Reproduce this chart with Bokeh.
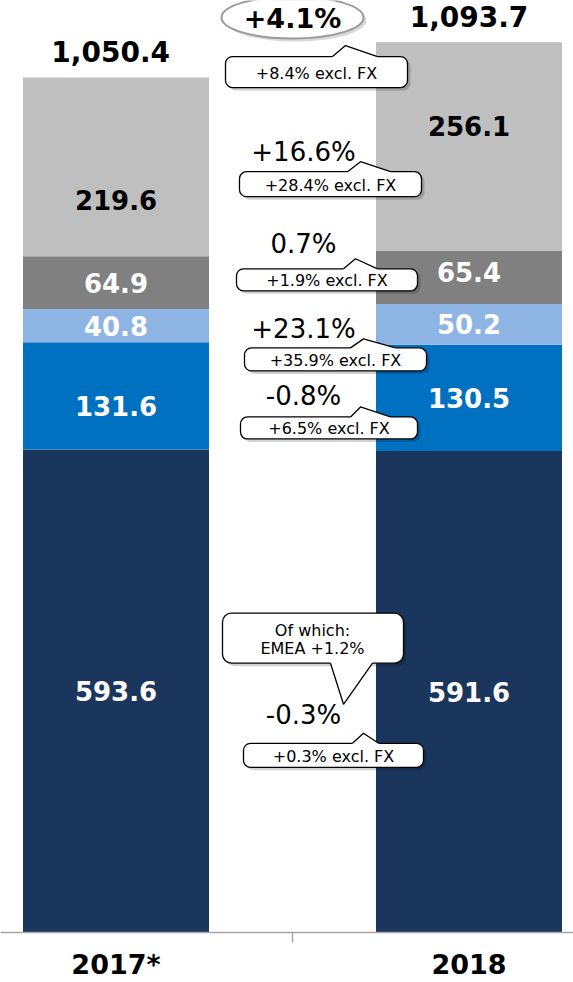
from bokeh.plotting import figure
from bokeh.models import Range1d, FixedTicker
from bokeh.core.properties import value
from bokeh.embed import file_html
from bokeh.resources import INLINE

# ---------------- data ----------------
years = ["2017*", "2018"]
values_2017 = [593.6, 131.6, 40.8, 64.9, 219.6]
values_2018 = [591.6, 130.5, 50.2, 65.4, 256.1]
totals = [1050.4, 1093.7]
growth = ["-0.3%", "-0.8%", "+23.1%", "0.7%", "+16.6%"]
growth_fx = ["+0.3% excl. FX", "+6.5% excl. FX", "+35.9% excl. FX",
             "+1.9% excl. FX", "+28.4% excl. FX"]
total_growth = "+4.1%"
total_growth_fx = "+8.4% excl. FX"
note_lines = ["Of which:", "EMEA +1.2%"]

# ---------------- styles / layout ----------------
colors = ["#1b365d", "#0070c0", "#8db4e2", "#808080", "#bfbfbf"]
label_colors = ["white", "white", "white", "white", "black"]
FONT = "DejaVu Sans"
W = 573
FRAME_H = 931          # rendered frame height
REF_BASE = 933         # baseline of the reference picture (px)
PXU = 0.813            # pixels per value unit
X_START = -115.5 / 353.0
X_PER_PX = 1 / 353.0
BAR_W = 186 / 353.0

def X(px):
    return X_START + px * X_PER_PX

def Y(py):
    return (REF_BASE - py) / PXU

def DY(dpx):
    return dpx / PXU

p = figure(width=W, height=982, min_border=0, output_backend="svg",
           toolbar_location=None, y_axis_location=None,
           x_range=Range1d(X_START, X_START + W * X_PER_PX),
           y_range=Range1d(0, FRAME_H / PXU))
p.outline_line_color = None
p.xgrid.visible = False
p.ygrid.visible = False
p.background_fill_color = "white"

ax = p.xaxis[0]
ax.ticker = FixedTicker(ticks=[0, 1], minor_ticks=[0.5])
ax.major_label_overrides = {0: years[0], 1: years[1]}
ax.major_tick_out = 0
ax.major_tick_in = 0
ax.minor_tick_out = 10
ax.minor_tick_in = 0
ax.minor_tick_line_color = "#a6a6a6"
ax.minor_tick_line_width = 1.5
ax.axis_line_color = "#a6a6a6"
ax.axis_line_width = 1.5
ax.major_label_standoff = 6
ax.major_label_text_font = FONT
ax.major_label_text_font_size = "27px"
ax.major_label_text_font_style = "bold"
ax.major_label_text_color = "black"

# ---------------- stacked bars ----------------
label_dy_px = [[0, -10, 0, 0, -33], [0, 0, 0, 5, 20]]
for i, vals in enumerate([values_2017, values_2018]):
    bottom = 0.0
    for j, v in enumerate(vals):
        p.vbar(x=[i], width=BAR_W, bottom=[bottom], top=[bottom + v],
               fill_color=colors[j], line_color=None)
        p.text(x=[i], y=[bottom + v / 2 + DY(label_dy_px[i][j])],
               text=[f"{v:.1f}"], text_align="center", text_baseline="middle",
               text_font=value(FONT), text_font_size="26px",
               text_font_style="bold", text_color=label_colors[j])
        bottom += v
    p.text(x=[i - 0.015 * (1 - i)], y=[totals[i] + DY(26)],
           text=[f"{totals[i]:,.1f}"],
           text_align="center", text_baseline="middle",
           text_font=value(FONT), text_font_size="28px",
           text_font_style="bold", text_color="black")

# ---------------- callouts ----------------
def shadow_box(l, r, t, b, radius=7):
    p.quad(left=[X(l + 3)], right=[X(r + 3)], top=[Y(t + 3)], bottom=[Y(b + 3)],
           fill_color="#000000", fill_alpha=0.18, line_color=None,
           border_radius=radius)
    p.quad(left=[X(l)], right=[X(r)], top=[Y(t)], bottom=[Y(b)],
           fill_color="white", line_color="black", line_width=1.3,
           border_radius=radius)

def tail(base_y, xl, xr, ax_, ay_, up=True):
    d = 1.5 if up else -1.5
    p.patch(x=[X(xl), X(xl), X(ax_), X(xr), X(xr)],
            y=[Y(base_y + d), Y(base_y), Y(ay_), Y(base_y), Y(base_y + d)],
            fill_color="white", line_color=None)
    p.line(x=[X(xl), X(ax_), X(xr)], y=[Y(base_y), Y(ay_), Y(base_y)],
           line_color="black", line_width=1.3)

# growth value text centers and fx boxes (px)
growth_pos = [(303, 716), (303, 397), (303, 330), (303, 245), (303, 153)]
fx_boxes = [(243, 423, 744, 768, 352, 363, 734, 378),
            (240, 417, 418, 440, 350, 360, 408, 390),
            (244, 426, 349, 372, 350, 363, 340, 395),
            (236, 417, 270, 292, 343, 355, 260, 377),
            (239, 421, 173, 198, 347, 360, 163, 390)]

# EMEA note bubble
shadow_box(222, 403, 614, 664, radius=9)
tail(664, 330, 372, 343, 705, up=False)
for k, line in enumerate(note_lines):
    p.text(x=[X(312)], y=[Y(631 + 18 * k)], text=[line], text_align="center",
           text_baseline="middle", text_font=value(FONT),
           text_font_size="16px", text_color="black")

for k in range(len(growth)):
    gx, gy = growth_pos[k]
    p.text(x=[X(gx)], y=[Y(gy)], text=[growth[k]], text_align="center",
           text_baseline="middle", text_font=value(FONT),
           text_font_size="26px", text_color="black")
    l, r, t, b, tl, tax, tay, tr = fx_boxes[k]
    shadow_box(l, r, t, b)
    tail(t, tl, tr, tax, tay)
    p.text(x=[X((l + r) / 2)], y=[Y((t + b) / 2 + 1)], text=[growth_fx[k]],
           text_align="center", text_baseline="middle", text_font=value(FONT),
           text_font_size="16px", text_color="black")

# total growth ellipse and box
p.ellipse(x=[X(295)], y=[Y(22)], width=142 * X_PER_PX, height=DY(42),
          fill_color="#000000", fill_alpha=0.15, line_color=None)
p.ellipse(x=[X(292)], y=[Y(19)], width=142 * X_PER_PX, height=DY(42),
          fill_color="white", line_color="#9a9a9a", line_width=2)
p.text(x=[X(292)], y=[Y(20)], text=[total_growth], text_align="center",
       text_baseline="middle", text_font=value(FONT), text_font_size="27px",
       text_font_style="bold", text_color="black")
shadow_box(225, 407, 58, 89)
tail(58, 332, 377, 345, 47)
p.text(x=[X(316)], y=[Y(74.5)], text=[total_growth_fx], text_align="center",
       text_baseline="middle", text_font=value(FONT), text_font_size="16px",
       text_color="black")

open("out.html", "w").write(file_html(p, INLINE))
